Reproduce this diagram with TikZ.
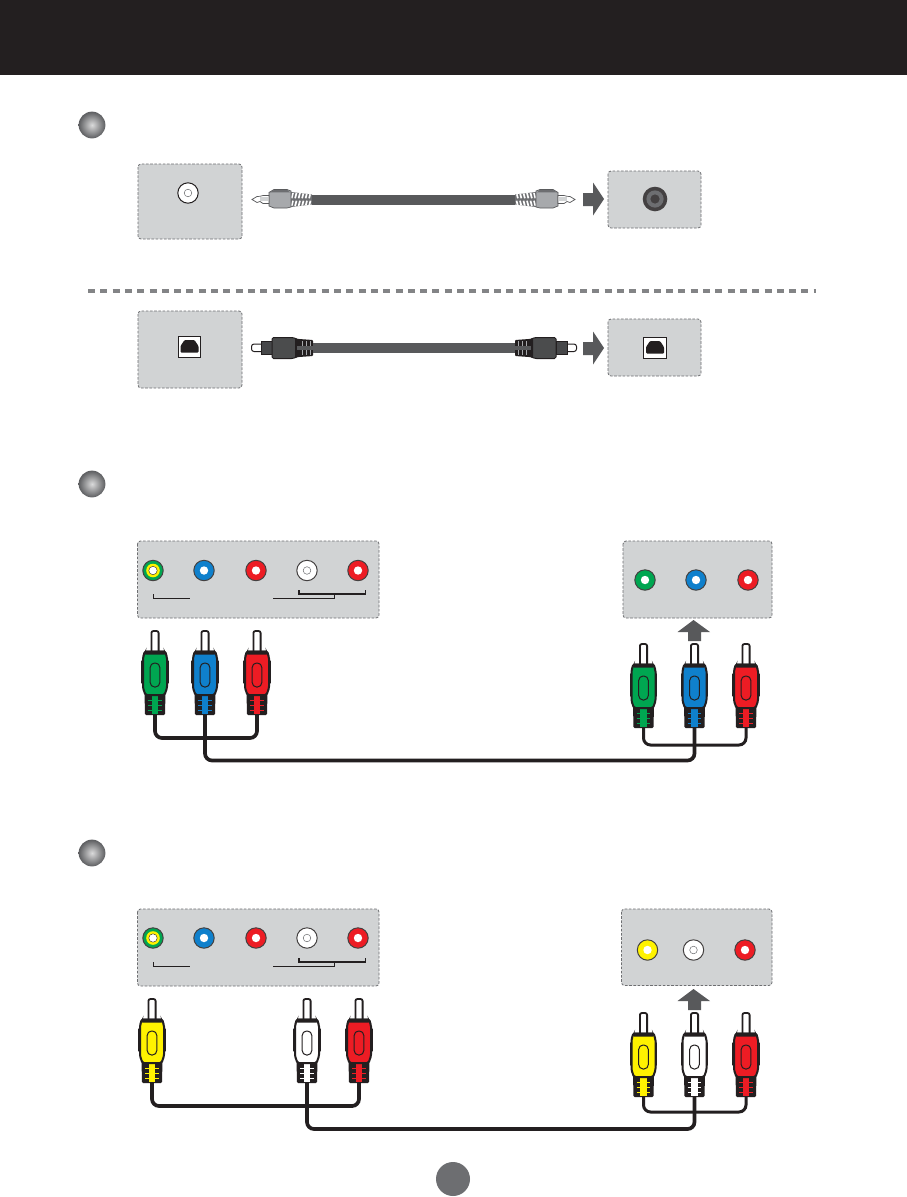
\documentclass[tikz,border=0pt]{standalone}
\usetikzlibrary{calc}
\definecolor{ink}{HTML}{231F20}
\definecolor{panel}{HTML}{D1D3D4}
\definecolor{edge}{HTML}{6D6E71}
\definecolor{wire}{HTML}{58595B}
\definecolor{midgrey}{HTML}{A7A9AC}
\definecolor{cgreen}{HTML}{00A651}
\definecolor{cblue}{HTML}{0F80CC}
\definecolor{cred}{HTML}{ED1C24}
\definecolor{cyellow}{HTML}{FFF200}
\tikzset{
  panelbox/.style={fill=panel,draw=edge,line width=0.8pt,dash pattern=on 2.6pt off 1.6pt,rounded corners=3pt},
  bigarrow/.style={fill=wire,draw=none},
  cable/.style={draw=ink,line width=3.7pt,rounded corners=7pt,line cap=butt},
  thincable/.style={draw=ink,line width=3pt,rounded corners=7pt,line cap=butt},
  thinbracket/.style={draw=ink,line width=0.7pt},
  thickbracket/.style={draw=ink,line width=1.5pt},
  bullet/.style={inner color=white!75!edge,outer color=edge!85!black}
}
% plug: name, x, pin-top y, colour
\newcommand{\rcaplug}[4]{%
  \begin{scope}[shift={(#2,#3)}]
    \draw[ink,line width=1.8pt,fill=white,rounded corners=2pt] (-3.6,22) -- (-3.6,1) -- (3.6,1) -- (3.6,22);
    % ribs
    \fill[ink,rounded corners=1.2pt] (-10.5,62) -- (10.5,62) -- (10,85) -- (-10,85) -- cycle;
    \fill[#4] (-3.2,66) rectangle (3.2,84);
    \foreach \yy in {70.5,75.5,80.5} \draw[#4,line width=0.9pt] (-6.8,\yy) -- (6.8,\yy);
    % body
    \draw[ink,line width=2pt,fill=#4,rounded corners=1.5pt] (-10.5,21.5) -- (10.5,21.5) -- (11,25) -- (12,27) -- (12,58) -- (9.5,65) -- (-9.5,65) -- (-12,58) -- (-12,27) -- (-11,25) -- cycle;
    \fill[ink,rounded corners=1.5pt] (-11,20.5) rectangle (11,24.5);
    \draw[ink,line width=1pt,rounded corners=4.4pt] (-4.8,33) rectangle (4.8,57);
    \draw[ink,line width=1.1pt,line cap=round] (-13,31) -- (-13,53);
    \draw[ink,line width=1.1pt,line cap=round] (13,31) -- (13,53);
  \end{scope}
  \coordinate (#1) at (#2,#3+85);%
}
% jack: x, y, outer colour, inner colour
\newcommand{\rcajack}[4]{%
  \fill[#3,draw=ink!85,line width=1pt] (#1,#2) circle[radius=10.2];
  \fill[#4] (#1,#2) circle[radius=4.2];%
}
\newcommand{\compjack}[2]{%
  \fill[cgreen,draw=ink!85,line width=1pt] (#1,#2) circle[radius=10.2];
  \fill[cyellow] (#1,#2) circle[radius=6.8];
  \fill[white,draw=ink,line width=0.4pt] (#1,#2) circle[radius=4.2];%
}
\newcommand{\whitejack}[2]{%
  \fill[white,draw=ink!85,line width=1pt] (#1,#2) circle[radius=10.2];
  \draw[edge,line width=0.5pt] (#1,#2) circle[radius=3.8];%
}
\newcommand{\brackets}[1]{%
  \begin{scope}[shift={(0,#1)}]
    \draw[thinbracket] (153,594) -- (153,598) -- (190,598);
    \draw[thinbracket] (273,598) -- (334,598) -- (334,594.5);
    \draw[thickbracket] (299,590) -- (299,594) -- (365.5,594) -- (365.5,590);
  \end{scope}%
}
% mini-jack plug; #3 = +1 tip to the left of the join, -1 tip to the right
\newcommand{\minijack}[4]{%
  \begin{scope}[shift={(#1,#2)},xscale=#3]
    \fill[edge] (0,-5) -- (0,5) -- (-21,7.5) -- (-21,-7.5) -- cycle;
    \begin{scope}
      \clip (0,-5) -- (0,5) -- (-21,7.5) -- (-21,-7.5) -- cycle;
      \foreach \k in {1.5,5,...,22} {
        \draw[white,line width=1.7pt] (-\k,-6.5) -- (-\k-1.4,-1.2);
        \draw[white,line width=1.7pt] (-\k,1.2) -- (-\k-1.4,6.5);
      }
    \end{scope}
    \draw[wire,line width=0.7pt,fill=midgrey] (-21,-8.5) -- (-25,-10) -- (-38,-10) -- (-43,-7) -- (-43,6.5) -- (-38,8.5) -- (-25,8.5) -- (-21,7.5) -- cycle;
    \fill[edge] (-25,-9.7) -- (-38,-9.7) -- (-42,-7.2) -- (-22,-7.2) -- cycle;
    \draw[wire,line width=0.7pt,fill=white] (-43,-4) -- (-49,-4) -- (-52,-3.2) -- (-55,-3) -- (-60,0) -- (-55,3) -- (-52,2) -- (-49,4) -- (-43,4) -- cycle;
    \fill[panel] (-52,-2.5) rectangle (-44,1);
  \end{scope}
  \coordinate (#4) at (#1,#2);%
}
\newcommand{\optoplug}[4]{%
  \begin{scope}[shift={(#1,#2)},xscale=#3]
    \draw[ink,line width=1pt,fill=white,rounded corners=2.5pt] (-51,-4) -- (-61.5,-4) -- (-61.5,3.5) -- (-51,3.5);
    \fill[wire!80!black,draw=ink,line width=1pt] (-52,-6.8) rectangle (-41,6.8);
    \fill[wire!85!black,draw=ink,line width=1pt,rounded corners=1.5pt] (-41,-10.5) -- (-20,-10.5) -- (-15,-8.5) -- (-15,8.5) -- (-20,10.5) -- (-41,10.5) -- cycle;
    \fill[ink,rounded corners=1pt] (-18,-9.6) -- (-14,-9) -- (0,-8) -- (0,8) -- (-14,9) -- (-18,9.6) -- cycle;
    \fill[wire] (-16,-1.6) rectangle (0,1.6);
    \foreach \k in {-3,-7,-11} \draw[midgrey,line width=1pt] (\k,-7) -- (\k,-2.4) (\k,2.4) -- (\k,7);
  \end{scope}
  \coordinate (#4) at (#1,#2);%
}
\newcommand{\optoport}[2]{%
  \fill[white,draw=ink,line width=1pt] (#1-11.3,#2-10.5) rectangle (#1+11.3,#2+10.5);
  \fill[ink,rounded corners=1pt] (#1-9,#2+6) -- (#1-9,#2-0.5) -- (#1-5,#2-6.5) -- (#1+5,#2-6.5) -- (#1+9,#2-0.5) -- (#1+9,#2+6) -- cycle;%
}
\begin{document}
\begin{tikzpicture}[x=1pt,y=-1pt]
\useasboundingbox (0,0) rectangle (907,1197);
\fill[white] (0,0) rectangle (907,1197);
% header
\fill[ink] (0,0) rectangle (907,75);
% bullets
\foreach \yy in {125,484,853} \shade[bullet] (92,\yy) circle[radius=13.4];
% page number disc
\fill[edge] (453,1179) circle[radius=17];
% --- section 1 : mini jack ---
\draw[panelbox] (138,164) rectangle (242,239);
\draw[panelbox] (608,171) rectangle (701,228);
\fill[white,draw=ink,line width=1pt] (188,193) circle[radius=10.2];
\draw[edge,line width=.5pt] (188,193) circle[radius=3.8];
\fill[ink!85] (655,199) circle[radius=12.3];
\fill[edge] (655,199) circle[radius=8.6];
\fill[ink!85] (655,199) circle[radius=4.6];
\minijack{312}{199.5}{1}{mja}
\minijack{515}{199.5}{-1}{mjb}
\fill[wire] ($(mja)+(0,-5)$) rectangle ($(mjb)+(0,5)$);
\path[bigarrow] (583,193) -- (593,193) -- (593,182.5) -- (604,199) -- (593,215.5) -- (593,206) -- (583,206) -- cycle;
% dashed divider
\draw[edge!85,line width=3.6pt,dash pattern=on 7pt off 5.3pt] (88,291) -- (816,291);
% --- section 1b : optical ---
\draw[panelbox] (138,311) rectangle (242,388);
\draw[panelbox] (608,319) rectangle (701,376);
\optoport{189.5}{346.5}
\optoport{655}{347.5}
\optoplug{313}{348}{1}{opa}
\optoplug{515}{348}{-1}{opb}
\fill[wire] ($(opa)+(0,-5)$) rectangle ($(opb)+(0,5)$);
\path[bigarrow] (583,342) -- (593,342) -- (593,331.5) -- (604,348) -- (593,364.5) -- (593,355) -- (583,355) -- cycle;
% --- section 2 : component ---
\draw[panelbox] (137.5,541) rectangle (379,618);
\compjack{153}{570.5}
\rcajack{204}{570.5}{cblue}{white}
\rcajack{256}{570.5}{cred}{white}
\whitejack{307}{570.5}
\rcajack{358}{570.5}{cred}{white}
\brackets{0}
\draw[panelbox] (623,541) rectangle (772,618);
\rcajack{645}{580}{cgreen}{white}
\rcajack{696}{580}{cblue}{white}
\rcajack{748}{580}{cred}{white}
\path[bigarrow] (693.5,620) -- (710,632) -- (701,632) -- (701,641) -- (688,641) -- (688,632) -- (677.5,632) -- cycle;
\rcaplug{lg}{155}{630}{cgreen}
\rcaplug{lb}{205}{630}{cblue}
\rcaplug{lr}{257}{630}{cred}
\rcaplug{rg}{643.5}{643}{cgreen}
\rcaplug{rb}{694.5}{643}{cblue}
\rcaplug{rr}{746}{643}{cred}
\draw[cable] (lg) -- (lg |- 0,738) -- (lr |- 0,738) -- (lr);
\draw[cable] (lb) -- (lb |- 0,760.5) -- (rb |- 0,760.5) -- (rb);
\draw[thincable] (rg) -- (rg |- 0,745) -- (rr |- 0,745) -- (rr);
% --- section 3 : composite ---
\draw[panelbox] (137.5,909) rectangle (379,986);
\compjack{153}{938}
\rcajack{204}{938}{cblue}{white}
\rcajack{256}{938}{cred}{white}
\whitejack{307}{938}
\rcajack{358}{938}{cred}{white}
\brackets{368}
\draw[panelbox] (621.5,909) rectangle (772,985.5);
\rcajack{647.5}{950}{cyellow}{white}
\whitejack{693.5}{950}
\rcajack{745}{950}{cred}{white}
\path[bigarrow] (693.5,989) -- (710,1001) -- (701,1001) -- (701,1010) -- (688,1010) -- (688,1001) -- (677.5,1001) -- cycle;
\rcaplug{xy}{152}{998}{cyellow}
\rcaplug{xw}{307}{998}{white}
\rcaplug{xr}{359}{998}{cred}
\rcaplug{qy}{643.5}{1012}{cyellow}
\rcaplug{qw}{694.5}{1012}{white}
\rcaplug{qr}{746}{1012}{cred}
\draw[cable] (xy) -- (xy |- 0,1106) -- (xr |- 0,1106) -- (xr);
\draw[cable] (xw) -- (xw |- 0,1129) -- (qw |- 0,1129) -- (qw);
\draw[thincable] (qy) -- (qy |- 0,1112) -- (qr |- 0,1112) -- (qr);
\end{tikzpicture}
\end{document}
